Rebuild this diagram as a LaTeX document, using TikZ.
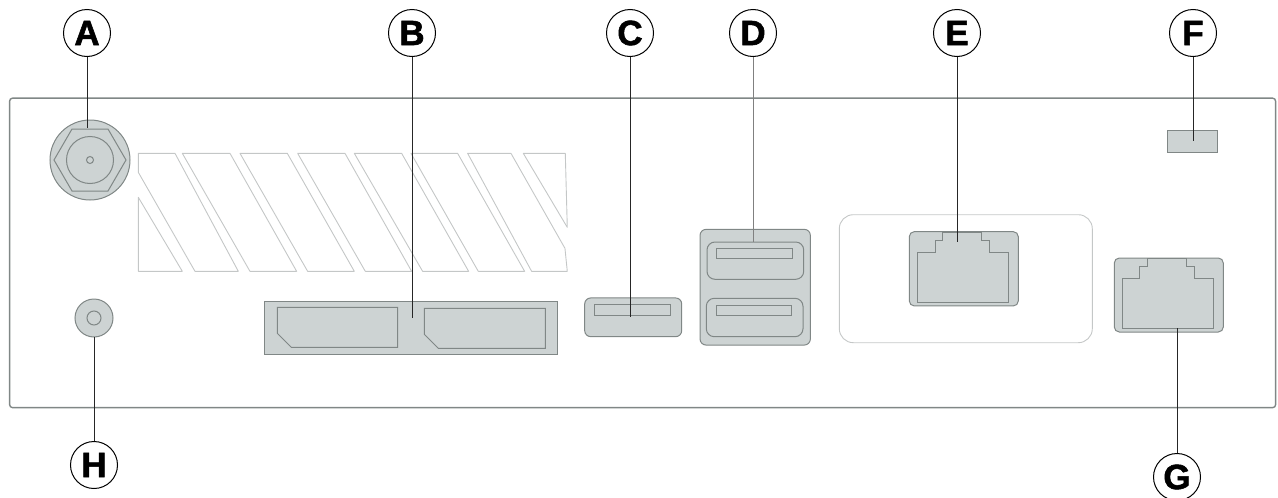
\documentclass[tikz,border=0pt]{standalone}
\usepackage{fontspec}
\newfontfamily\lblfont[FakeBold=1.6]{Liberation Sans Bold}
\usepackage{xcolor}
\usetikzlibrary{positioning}
\definecolor{colorPort}{RGB}{205,211,211}
\definecolor{colorEdge}{RGB}{128,135,134}
\definecolor{colorSlat}{RGB}{196,199,199}
\tikzstyle{lead}=[draw=black!85, line width=1pt]
\tikzstyle{callout}=[circle,draw=black,line width=1pt,fill=white,minimum size=47pt,inner sep=0pt,on grid,font={\fontsize{35pt}{35}\lblfont}]
\tikzstyle{port}=[draw=colorEdge,line width=1pt,fill=colorPort,inner sep=0pt,outer sep=0pt,rounded corners=6pt]
\tikzstyle{inner}=[draw=colorEdge,line width=1pt]
\tikzstyle{slat}=[draw=colorSlat,line width=.9pt,line join=round]

\begin{document}
\begin{tikzpicture}[x=1pt,y=-1pt]
\useasboundingbox (0,0) rectangle (1278,498);

%%% Case and vents
\node[draw=colorEdge,line width=1.4pt,rounded corners=3pt,inner sep=0pt,minimum width=1266pt,minimum height=309.5pt] (panel) at (642.6,252.9) {};

\begin{scope}[shift={(130,140)},x=.3333pt,y=-.3333pt]
\foreach \pts in {
  {(25,40)--(135,40)--(325,394)--(195,394)--(25,97)},
  {(25,172)--(157,394)--(25,394)},
  {(157,40)--(300,40)--(500,394)--(360,394)},
  {(330,40)--(472,40)--(673,394)--(533,394)},
  {(503,40)--(645,40)--(845,394)--(706,394)},
  {(673,40)--(815,40)--(1016,394)--(878,394)},
  {(843,40)--(983,40)--(1184,394)--(1045,394)},
  {(1013,40)--(1143,40)--(1305,325)--(1312,394)--(1205,394)},
  {(1180,40)--(1306,40)--(1312,262)}}
  \draw[slat] \pts -- cycle;
\end{scope}

%%% Ports
\node[port,circle,minimum size=80pt] (portA) at (90,160) {};
\draw[inner] (54,160) -- (72,129) -- (108,129) -- (126,160) -- (108,191) -- (72,191) -- cycle;
\draw[inner] (90,160) circle (23.5) (90,160) circle (3.5);

\node[port,rounded corners=0pt,minimum width=292.7pt,minimum height=53.3pt] (portB) at (410.7,328.3) {};
\draw[inner] (277.3,307.3) -- (397.7,307.3) -- (397.7,347.3) -- (291.3,347.3) -- (277.3,333.3) -- cycle;
\draw[inner] (424.3,308.3) -- (545.3,308.3) -- (545.3,348.3) -- (438.3,348.3) -- (424.3,334.3) -- cycle;

\node[port,minimum width=97pt,minimum height=38.7pt] (portC) at (633.2,317.3) {};
\draw[inner] (594.3,304.7) rectangle (670.7,315.3);

\node[port,minimum width=110.3pt,minimum height=115.7pt] (portD) at (755.2,287.2) {};
\draw[inner,rounded corners=8pt] (707,242) rectangle (803.7,279.3);
\draw[inner] (716.7,248.3) rectangle (792.3,258.3);
\draw[inner,rounded corners=8pt] (706.3,298.3) rectangle (803,336.7);
\draw[inner] (716,305) rectangle (791.7,315.3);

\node[draw=colorSlat,line width=.9pt,rounded corners=14pt,inner sep=0pt,minimum width=253pt,minimum height=128pt] (frameE) at (965.8,278.7) {};
\node[port,rounded corners=5pt,minimum width=109pt,minimum height=74.3pt] (portE) at (963.8,268.8) {};
\node[port,rounded corners=5pt,minimum width=109pt,minimum height=74pt] (portG) at (1168.8,295) {};
\foreach \dx/\dy in {0/0, 204.7/26.3}
  \draw[inner,shift={(\dx,\dy)}] (917.7,252.3) -- (935,252.3) -- (935,240.3) -- (942.3,240.3) -- (942.3,232.3) -- (981.7,232.3) -- (981.7,240.3) -- (989.3,240.3) -- (989.3,252.3) -- (1008.7,252.3) -- (1008.7,302.3) -- (917.7,302.3) -- cycle;

\node[port,rounded corners=0pt,minimum width=50.3pt,minimum height=21.7pt] (portF) at (1192.8,141.8) {};

\node[port,circle,minimum size=38pt] (portH) at (94,318) {};
\draw[inner] (94,318) circle (7);

%%% Callouts
\node[callout] (lblA) at (87,33) {A};
\node[callout,right=325pt of lblA] (lblB) {B};
\node[callout,right=218pt of lblB] (lblC) {C};
\node[callout,right=123pt of lblC] (lblD) {D};
\node[callout,right=204pt of lblD] (lblE) {E};
\node[callout,right=236pt of lblE] (lblF) {F};
\node[callout] (lblG) at (1177,477) {G};
\node[callout] (lblH) at (94,465) {H};

\coordinate (endA) at (87,128);
\coordinate (endB) at (412,318);
\coordinate (endC) at (630,317);
\coordinate (endD) at (753,242);
\coordinate (endE) at (957,242);
\coordinate (endF) at (1193,141);
\coordinate (endG) at (1177,328);
\coordinate (endH) at (94,337);

\draw[lead] (lblA) -- (endA);
\draw[lead] (lblB) -- (endB);
\draw[lead] (lblC) -- (endC);
\draw[lead,draw=black!50] (lblD) -- (endD);
\draw[lead] (lblE) -- (endE);
\draw[lead] (lblF) -- (endF);
\draw[lead] (lblG) -- (endG);
\draw[lead] (lblH) -- (endH);

\end{tikzpicture}
\end{document}
